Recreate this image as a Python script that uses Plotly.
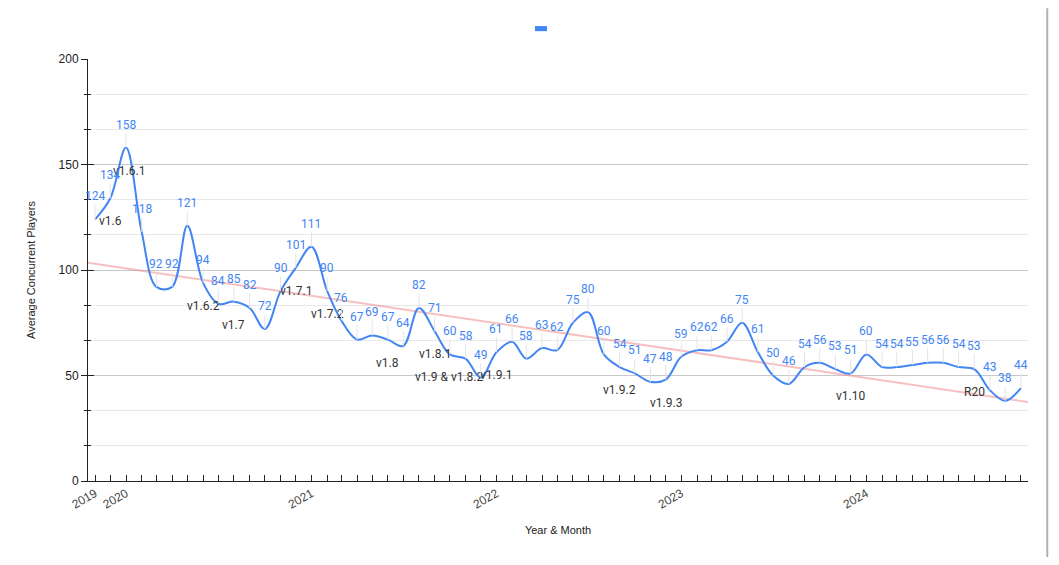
import numpy as np
import pandas as pd
import plotly.graph_objects as go

# monthly averages, Nov 2019 .. Nov 2024
months = [
    "2019-11", "2019-12",
    "2020-01", "2020-02", "2020-03", "2020-04", "2020-05", "2020-06",
    "2020-07", "2020-08", "2020-09", "2020-10", "2020-11", "2020-12",
    "2021-01", "2021-02", "2021-03", "2021-04", "2021-05", "2021-06",
    "2021-07", "2021-08", "2021-09", "2021-10", "2021-11", "2021-12",
    "2022-01", "2022-02", "2022-03", "2022-04", "2022-05", "2022-06",
    "2022-07", "2022-08", "2022-09", "2022-10", "2022-11", "2022-12",
    "2023-01", "2023-02", "2023-03", "2023-04", "2023-05", "2023-06",
    "2023-07", "2023-08", "2023-09", "2023-10", "2023-11", "2023-12",
    "2024-01", "2024-02", "2024-03", "2024-04", "2024-05", "2024-06",
    "2024-07", "2024-08", "2024-09", "2024-10", "2024-11",
]
players = [
    124, 134,
    158, 118, 92, 92, 121, 94, 84, 85, 82, 72, 90, 101,
    111, 90, 76, 67, 69, 67, 64, 82, 71, 60, 58, 49,
    61, 66, 58, 63, 62, 75, 80, 60, 54, 51, 47, 48,
    59, 62, 62, 66, 75, 61, 50, 46, 54, 56, 53, 51,
    60, 54, 54, 55, 56, 56, 54, 53, 43, 38, 44,
]

# release annotations
release_months = ["2019-12", "2020-01", "2020-06", "2020-08", "2020-12",
                  "2021-02", "2021-06", "2021-09", "2021-10", "2022-01",
                  "2022-09", "2022-12", "2023-12", "2024-08"]
release_names = ["v1.6", "v1.6.1", "v1.6.2", "v1.7", "v1.7.1",
                 "v1.7.2", "v1.8", "v1.8.1", "v1.9 & v1.8.2", "v1.9.1",
                 "v1.9.2", "v1.9.3", "v1.10", "R20"]

year_labels = {"2019-11": "2019", "2020-01": "2020", "2021-01": "2021",
               "2022-01": "2022", "2023-01": "2023", "2024-01": "2024"}

blue = "#4285f4"
dark = "#222222"

dates = pd.to_datetime(months)
x_lo = dates[0] - pd.Timedelta(days=14)
x_hi = dates[-1] + pd.Timedelta(days=14)

# linear trendline over the days, drawn across the whole axis
days = np.array((dates - dates[0]).days, dtype=float)
slope, icpt = np.polyfit(days, players, 1)
trend_x = [x_lo, x_hi]
trend_y = [icpt + slope * (d - dates[0]).days for d in trend_x]

fig = go.Figure()
fig.add_trace(go.Scatter(
    x=trend_x, y=trend_y, mode="lines",
    line=dict(color="rgba(240,140,140,0.55)", width=2),
    hoverinfo="skip",
))
fig.add_trace(go.Scatter(
    x=dates, y=players, mode="lines", yaxis="y2",
    line=dict(color=blue, width=2, shape="spline", smoothing=1),
    name="",
))

annotations = []
# release names first, so the value labels sit on top of them
for m, name in zip(release_months, release_names):
    i = months.index(m)
    annotations.append(dict(
        x=dates[i], y=players[i], text=name, showarrow=False,
        yshift=-23, xshift=3 if name == "v1.6.1" else 0,
        font=dict(family="Roboto", size=12, color="#333333"),
    ))
for d, v in zip(dates, players):
    annotations.append(dict(
        x=d, y=v, text=str(v), showarrow=True, arrowhead=0, arrowwidth=1,
        arrowcolor="#e4e4e4", ax=0, ay=-23, standoff=0,
        font=dict(family="Roboto", size=12, color=blue),
    ))

ticktext = [year_labels.get(m, "") for m in months]

# page body adds 8px round the figure
fig.update_layout(
    width=1043, height=549,
    margin=dict(l=80, r=23, t=51, b=76),
    paper_bgcolor="white", plot_bgcolor="white",
    showlegend=False,
    font=dict(family="Liberation Sans", color=dark),
    annotations=annotations,
    xaxis=dict(
        type="date", range=[x_lo, x_hi],
        tickvals=dates, ticktext=ticktext, tickangle=-30,
        ticks="inside", ticklen=6, tickcolor=dark,
        showline=True, linecolor=dark, linewidth=1,
        showgrid=False, zeroline=False,
        tickfont=dict(size=12, color="#444444"),
        title=dict(text="Year & Month", font=dict(size=11, color=dark)),
    ),
    yaxis=dict(
        range=[0, 200], dtick=50, tick0=0,
        ticks="outside", ticklen=6, tickcolor=dark,
        showline=True, linecolor=dark, linewidth=1,
        gridcolor="#c8c8c8", zeroline=False,
        tickfont=dict(size=12, color=dark),
        minor=dict(dtick=50 / 3, tick0=0, ticks="outside", ticklen=3,
                   tickcolor=dark, showgrid=True, gridcolor="#e8e8e8"),
        title=dict(text="Average Concurrent Players", standoff=20,
                   font=dict(size=11, color=dark)),
    ),
    yaxis2=dict(
        overlaying="y", side="left", range=[0, 200], dtick=50, tick0=0,
        ticks="inside", ticklen=6, tickcolor=dark,
        showticklabels=False, showgrid=False, zeroline=False, showline=False,
        minor=dict(dtick=50 / 3, tick0=0, ticks="inside", ticklen=3,
                   tickcolor=dark, showgrid=False),
    ),
    shapes=[
        # legend swatch (series has no name)
        dict(type="rect", xref="paper", yref="paper",
             x0=0.4755, x1=0.4883, y0=1.066, y1=1.078,
             fillcolor=blue, line=dict(width=0)),
        # frame edge on the right
        dict(type="line", xref="paper", yref="paper",
             x0=1.0205, x1=1.0205, y0=-0.18, y1=1.12,
             line=dict(color="#b0b0b0", width=2)),
    ],
)

fig.write_html("out.html")
